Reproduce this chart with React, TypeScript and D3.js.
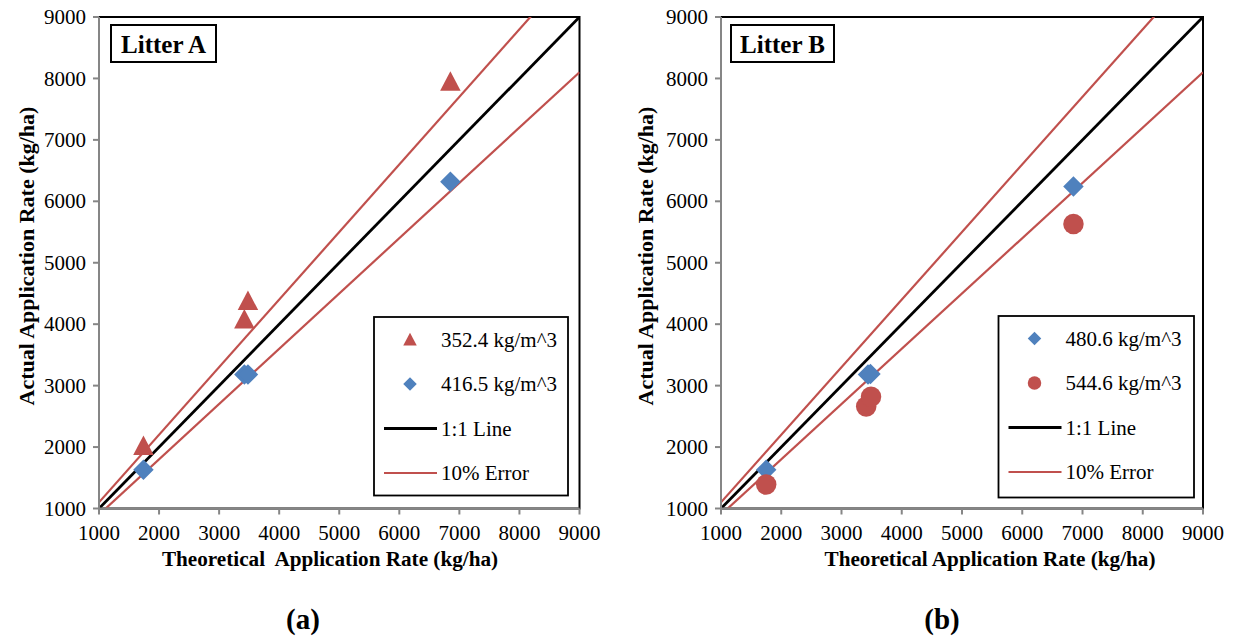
import React from "react";
import * as d3 from "d3";

// Axis settings shared by both panels (kg/ha)
const axisMin = 1000;
const axisMax = 9000;
const tickValues = [1000, 2000, 3000, 4000, 5000, 6000, 7000, 8000, 9000];

// Litter A
const litterA352X = [1740, 3420, 3480, 6850];
const litterA352Y = [2020, 4080, 4380, 7950];
const litterA416X = [1740, 3420, 3480, 6850];
const litterA416Y = [1630, 3180, 3180, 6320];

// Litter B
const litterB480X = [1750, 3440, 3480, 6850];
const litterB480Y = [1630, 3180, 3190, 6240];
const litterB544X = [1750, 3410, 3490, 6850];
const litterB544Y = [1390, 2660, 2820, 5630];

// Reference lines: 1:1 and ±10 %
const oneToOne = [1000, 9000];
const errorFactors = [1.1, 0.9];

const RED = "#C0504D";
const BLUE = "#4F81BD";
const AXIS_GREY = "#868686";
const FONT = "Liberation Serif, Tinos, Times New Roman, DejaVu Serif, serif";

type Shape = "triangle" | "diamond" | "circle";

type Series = {
  name: string;
  xs: number[];
  ys: number[];
  shape: Shape;
  color: string;
};

function marker(shape: Shape, cx: number, cy: number, s: number, color: string, key?: string | number) {
  if (shape === "circle") {
    return <circle key={key} cx={cx} cy={cy} r={s / 2} fill={color} />;
  }
  if (shape === "diamond") {
    const h = s / 2;
    const d = `M${cx},${cy - h}L${cx + h},${cy}L${cx},${cy + h}L${cx - h},${cy}Z`;
    return <path key={key} d={d} fill={color} />;
  }
  const h = s / 2;
  const d = `M${cx},${cy - h}L${cx + h},${cy + h * 0.9}L${cx - h},${cy + h * 0.9}Z`;
  return <path key={key} d={d} fill={color} />;
}

type PanelProps = {
  id: string;
  left: number;
  right: number;
  top: number;
  bottom: number;
  label: string;
  labelBox: [number, number];
  series: Series[];
  legendBox: [number, number, number, number];
  xTitle: string;
  xTitleX: number;
  yTitleX: number;
  caption: string;
  captionX: number;
};

function Panel(p: PanelProps) {
  const x = d3.scaleLinear().domain([axisMin, axisMax]).range([p.left, p.right]);
  const y = d3.scaleLinear().domain([axisMin, axisMax]).range([p.bottom, p.top]);
  const line = d3
    .line<[number, number]>()
    .x((d) => x(d[0]))
    .y((d) => y(d[1]));

  const diag: [number, number][] = oneToOne.map((v) => [v, v]);
  const errLines: [number, number][][] = errorFactors.map((f) =>
    oneToOne.map((v) => [v, v * f] as [number, number])
  );

  const [lx, ly, lw, lh] = p.legendBox;
  const rowGap = 44.5;
  const legendItems = [
    ...p.series.map((s) => ({ kind: "marker" as const, s, text: s.name })),
    { kind: "line" as const, color: "#000", width: 3, text: "1:1 Line" },
    { kind: "line" as const, color: RED, width: 2.2, text: "10% Error" },
  ];

  return (
    <g>
      <defs>
        <clipPath id={`clip-${p.id}`}>
          <rect x={p.left} y={p.top} width={p.right - p.left} height={p.bottom - p.top} />
        </clipPath>
      </defs>

      {/* plot frame */}
      <rect
        x={p.left}
        y={p.top}
        width={p.right - p.left}
        height={p.bottom - p.top}
        fill="#fff"
        stroke="#000"
        strokeWidth={2}
      />

      {/* reference lines */}
      <g clipPath={`url(#clip-${p.id})`}>
        {errLines.map((l, i) => (
          <path key={i} d={line(l) || ""} fill="none" stroke={RED} strokeWidth={2.2} />
        ))}
        <path d={line(diag) || ""} fill="none" stroke="#000" strokeWidth={2.8} />
      </g>

      {/* axes */}
      <line x1={p.left} x2={p.left} y1={p.top} y2={p.bottom} stroke={AXIS_GREY} strokeWidth={2} />
      <line x1={p.left} x2={p.right} y1={p.bottom} y2={p.bottom} stroke={AXIS_GREY} strokeWidth={2} />
      {tickValues.map((t) => (
        <g key={`y${t}`}>
          <line x1={p.left - 6} x2={p.left} y1={y(t)} y2={y(t)} stroke={AXIS_GREY} strokeWidth={2} />
          <text
            x={p.left - 13}
            y={y(t)}
            dy="0.34em"
            textAnchor="end"
            style={{ fontFamily: FONT }}
            fontSize={21}
            fill="#000"
          >
            {t}
          </text>
        </g>
      ))}
      {tickValues.map((t) => (
        <g key={`x${t}`}>
          <line x1={x(t)} x2={x(t)} y1={p.bottom} y2={p.bottom + 6} stroke={AXIS_GREY} strokeWidth={2} />
          <text x={x(t)} y={540} textAnchor="middle" style={{ fontFamily: FONT }} fontSize={21} fill="#000">
            {t}
          </text>
        </g>
      ))}

      {/* data points */}
      {p.series.map((s, si) => (
        <g key={si}>
          {s.xs.map((v, i) => marker(s.shape, x(v), y(s.ys[i]), 20.5, s.color, i))}
        </g>
      ))}

      {/* panel label */}
      <rect
        x={p.labelBox[0]}
        y={25}
        width={p.labelBox[1]}
        height={37}
        fill="#fff"
        stroke="#000"
        strokeWidth={2}
      />
      <text
        x={p.labelBox[0] + p.labelBox[1] / 2}
        y={53}
        textAnchor="middle"
        style={{ fontFamily: FONT }}
        fontWeight="bold"
        fontSize={25}
        fill="#000"
      >
        {p.label}
      </text>

      {/* legend */}
      <rect x={lx} y={ly} width={lw} height={lh} fill="#fff" stroke="#000" strokeWidth={1.8} />
      {legendItems.map((it, i) => {
        const cy = ly + 22.5 + i * rowGap;
        return (
          <g key={i}>
            {it.kind === "marker"
              ? marker(it.s.shape, lx + 36, cy, 13.5, it.s.color)
              : (
                <line x1={lx + 10} x2={lx + 63} y1={cy} y2={cy} stroke={it.color} strokeWidth={it.width} />
              )}
            <text
              x={lx + 67}
              y={cy}
              dy="0.34em"
              style={{ fontFamily: FONT }}
              fontSize={21}
              fill="#000"
            >
              {it.text}
            </text>
          </g>
        );
      })}

      {/* axis titles */}
      <text
        x={p.xTitleX}
        y={566}
        textAnchor="middle"
        style={{ fontFamily: FONT, whiteSpace: "pre" }}
        fontWeight="bold"
        fontSize={21.2}
        fill="#000"
      >
        {p.xTitle}
      </text>
      <text
        transform={`translate(${p.yTitleX},256) rotate(-90)`}
        textAnchor="middle"
        style={{ fontFamily: FONT }}
        fontWeight="bold"
        fontSize={22}
        fill="#000"
      >
        Actual Application Rate (kg/ha)
      </text>

      {/* caption */}
      <text
        x={p.captionX}
        y={629}
        textAnchor="middle"
        style={{ fontFamily: FONT }}
        fontWeight="bold"
        fontSize={29}
        fill="#000"
      >
        {p.caption}
      </text>
    </g>
  );
}

export default function App() {
  const seriesA: Series[] = [
    { name: "352.4 kg/m^3", xs: litterA352X, ys: litterA352Y, shape: "triangle", color: RED },
    { name: "416.5 kg/m^3", xs: litterA416X, ys: litterA416Y, shape: "diamond", color: BLUE },
  ];
  const seriesB: Series[] = [
    { name: "480.6 kg/m^3", xs: litterB480X, ys: litterB480Y, shape: "diamond", color: BLUE },
    { name: "544.6 kg/m^3", xs: litterB544X, ys: litterB544Y, shape: "circle", color: RED },
  ];

  return (
    <svg
      width={1235}
      height={636}
      style={{ position: "absolute", left: 0, top: 0, background: "#fff" }}
    >
      <rect width={1235} height={636} fill="#fff" />
      <Panel
        id="a"
        left={99}
        right={579.5}
        top={17}
        bottom={508.5}
        label="Litter A"
        labelBox={[111, 105]}
        series={seriesA}
        legendBox={[374, 317, 194, 178.5]}
        xTitle={"Theoretical  Application Rate (kg/ha)"}
        xTitleX={330}
        yTitleX={34}
        caption="(a)"
        captionX={303}
      />
      <Panel
        id="b"
        left={721}
        right={1203}
        top={17}
        bottom={508.5}
        label="Litter B"
        labelBox={[731, 103]}
        series={seriesB}
        legendBox={[998.5, 316, 195.5, 181.5]}
        xTitle="Theoretical Application Rate (kg/ha)"
        xTitleX={990}
        yTitleX={653}
        caption="(b)"
        captionX={942}
      />
    </svg>
  );
}
